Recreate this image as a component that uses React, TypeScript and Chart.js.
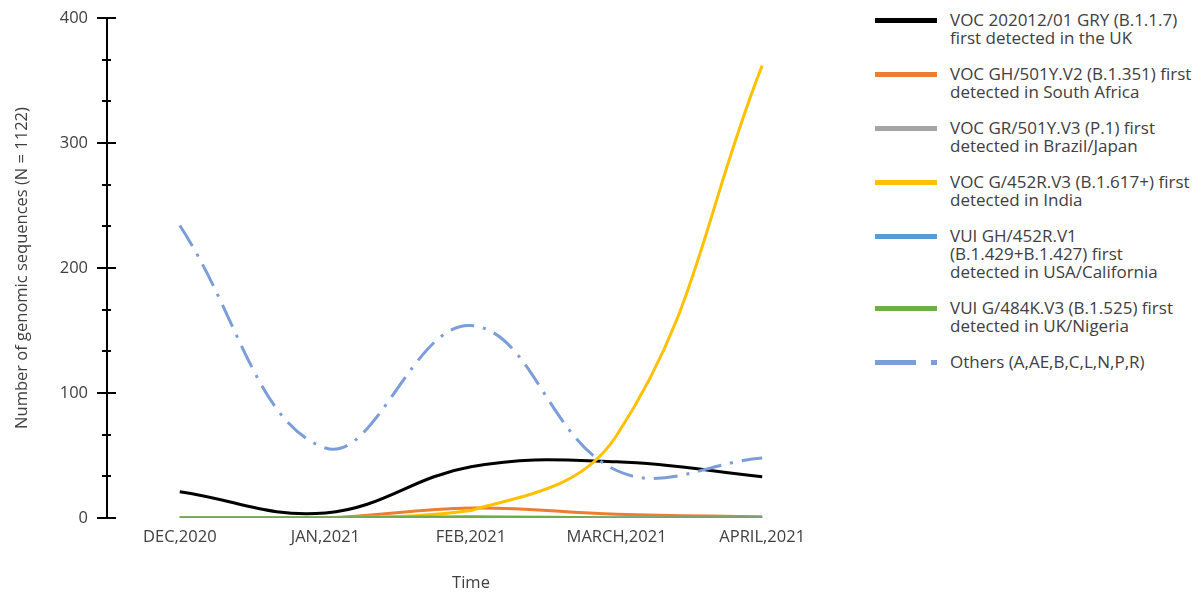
import React, { useEffect, useRef } from 'react';
import { Chart, registerables } from 'chart.js';

Chart.register(...registerables);

// ---- data ----
const months = ['DEC,2020', 'JAN,2021', 'FEB,2021', 'MARCH,2021', 'APRIL,2021'];
const b117 = [21, 4, 41, 45, 33];
const b1351 = [0, 0, 8, 3, 1];
const p1 = [0, 0, 0, 0, 0];
const b1617 = [0, 0, 6, 66, 362];
const b1429 = [0, 0, 0, 0, 0];
const b1525 = [0, 0, 1, 0, 0];
const others = [234, 56, 154, 38, 48];

const yMajorTicks = [0, 100, 200, 300, 400];
const yMinorPerMajor = 3;

const seriesNames = [
  ['VOC 202012/01 GRY (B.1.1.7)', 'first detected in the UK'],
  ['VOC GH/501Y.V2 (B.1.351) first', 'detected in South Africa'],
  ['VOC GR/501Y.V3 (P.1) first', 'detected in Brazil/Japan'],
  ['VOC G/452R.V3 (B.1.617+) first', 'detected in India'],
  ['VUI GH/452R.V1', '(B.1.429+B.1.427) first', 'detected in USA/California'],
  ['VUI G/484K.V3 (B.1.525) first', 'detected in UK/Nigeria'],
  ['Others (A,AE,B,C,L,N,P,R)'],
];
const seriesColors = ['#000000', '#ED7D31', '#A5A5A5', '#FFC000', '#5B9BD5', '#70AD47', '#7B9DDA'];
const seriesData = [b117, b1351, p1, b1617, b1429, b1525, others];

const FONT = "'Open Sans', 'Noto Sans', sans-serif";
const TEXT = '#404040';
const AXIS_FONT = { family: FONT, size: 16.5 };

const axisTickPlugin = {
  id: 'axisTicks',
  afterDraw(chart: any) {
    const ys = chart.scales.y;
    const ctx = chart.ctx;
    const x0 = chart.chartArea.left;
    ctx.save();
    ctx.strokeStyle = '#000';
    ctx.lineWidth = 2;
    for (let m = 0; m < yMajorTicks.length; m++) {
      const v = yMajorTicks[m];
      let py = Math.round(ys.getPixelForValue(v));
      ctx.beginPath();
      ctx.moveTo(x0 - 10, py);
      ctx.lineTo(x0 + 9, py);
      ctx.stroke();
      if (m < yMajorTicks.length - 1) {
        const step = (yMajorTicks[m + 1] - v) / yMinorPerMajor;
        for (let k = 1; k < yMinorPerMajor; k++) {
          py = Math.round(ys.getPixelForValue(v + k * step));
          ctx.beginPath();
          ctx.moveTo(x0 - 5, py);
          ctx.lineTo(x0 + 4, py);
          ctx.stroke();
        }
      }
    }
    ctx.restore();
  },
};

export default function App() {
  const canvasRef = useRef<HTMLCanvasElement | null>(null);

  useEffect(() => {
    document.body.style.margin = '0';
    const canvas = canvasRef.current;
    if (!canvas) return;
    const drawOrder = [6, 5, 4, 3, 2, 1, 0];
    const chart = new Chart(canvas, {
      type: 'line',
      data: {
        labels: months,
        datasets: seriesData.map((d, i) => ({
          label: seriesNames[i].join(' '),
          data: d,
          borderColor: seriesColors[i],
          backgroundColor: seriesColors[i],
          borderWidth: 3,
          pointRadius: 0,
          tension: 0.4,
          fill: false,
          order: drawOrder[i],
          borderDash: i === 6 ? [24, 9, 3, 9] : [],
        })),
      },
      options: {
        responsive: false,
        animation: false,
        devicePixelRatio: 1,
        layout: { padding: { top: 18, left: 0, right: 25, bottom: 0 } },
        plugins: {
          legend: { display: false },
          tooltip: { enabled: false },
        },
        scales: {
          x: {
            type: 'category',
            offset: true,
            grid: { display: false, drawTicks: false },
            border: { display: false },
            ticks: {
              font: AXIS_FONT,
              color: TEXT,
              padding: 9,
              maxRotation: 0,
              autoSkip: false,
            },
            title: {
              display: true,
              text: 'Time',
              font: AXIS_FONT,
              color: TEXT,
              padding: { top: 0, bottom: 4 },
            },
            afterFit: (s: any) => {
              s.height = 79;
              s.paddingLeft = 0;
              s.paddingRight = 0;
            },
          },
          y: {
            min: 0,
            max: 400,
            ticks: {
              stepSize: 100,
              padding: 19,
              font: AXIS_FONT,
              color: TEXT,
            },
            grid: { display: false, drawTicks: false },
            border: { display: true, color: '#000', width: 2 },
            title: {
              display: true,
              text: 'Number of genomic sequences (N = 1122)',
              font: AXIS_FONT,
              color: TEXT,
              padding: { top: 12, bottom: 0 },
            },
            afterFit: (s: any) => {
              s.width = 107;
              s.paddingTop = 0;
              s.paddingBottom = 0;
            },
          },
        },
      },
      plugins: [axisTickPlugin],
    });
    return () => chart.destroy();
  }, []);

  // legend layout
  let top = 11;
  const entries = seriesNames.map((lines, i) => {
    const t = top;
    top += lines.length * 18 + 18;
    return { lines, color: seriesColors[i], top: t, dashed: i === 6 };
  });

  return (
    <div style={{ position: 'relative', width: 1203, height: 597, fontFamily: FONT }}>
      <canvas ref={canvasRef} width={860} height={597} style={{ position: 'absolute', left: 0, top: 0 }} />
      {entries.map((e, i) => (
        <div key={i} style={{ position: 'absolute', left: 875, top: e.top, width: 320 }}>
          {e.dashed ? (
            <>
              <div style={{ position: 'absolute', left: 0, top: 6.5, width: 41, height: 5, background: e.color }} />
              <div style={{ position: 'absolute', left: 56, top: 6.5, width: 6, height: 5, background: e.color }} />
            </>
          ) : (
            <div style={{ position: 'absolute', left: 0, top: 6.5, width: 62, height: 5, background: e.color }} />
          )}
          <div style={{ position: 'absolute', left: 75, top: 0, fontSize: 17, lineHeight: '18px', color: TEXT, whiteSpace: 'nowrap' }}>
            {e.lines.map((l, j) => (
              <div key={j}>{l}</div>
            ))}
          </div>
        </div>
      ))}
    </div>
  );
}
